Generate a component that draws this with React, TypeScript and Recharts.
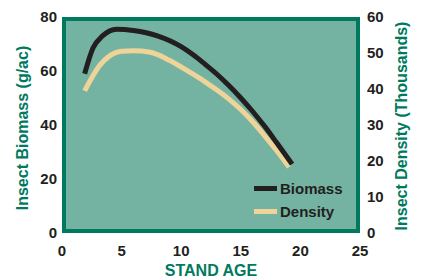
import React from 'react';
import {
  LineChart, Line, XAxis, YAxis, Legend, ReferenceArea, Label,
} from 'recharts';

const ageTicks = [0, 5, 10, 15, 20, 25];
const biomassTicks = [0, 20, 40, 60, 80];
const densityTicks = [0, 10, 20, 30, 40, 50, 60];

const biomassAge = [1.9, 2.6, 3.4, 4.6, 6, 8, 10, 11, 12, 13, 14, 15, 16, 17, 18, 19.3];
const biomassValue = [59, 68.5, 73, 75.5, 75, 73, 69, 66, 62.5, 58.8, 54.6, 50, 45, 39.5, 33.5, 25.5];

const densityAge = [1.9, 3.2, 4, 5, 6, 7.4, 9, 10.7, 12, 13, 14, 15, 16, 17, 18, 19.05];
const densityValue = [39.5, 46.7, 49.2, 50.5, 50.6, 50.2, 48, 44.7, 42, 39.7, 37.2, 34.3, 30.9, 27, 22.9, 18.3];

const biomassData = biomassAge.map((age, i) => ({ age, biomass: biomassValue[i] }));
const densityData = densityAge.map((age, i) => ({ age, density: densityValue[i] }));

const GREEN = '#007a5e';
const FILL = '#74b3a1';
const INK = '#231f20';
const TAN = '#efd49a';
const FONT = '"Liberation Sans", Arial, sans-serif';

const tickStyle = { fill: INK, fontSize: 15, fontWeight: 700, fontFamily: FONT };
const titleStyle: React.CSSProperties = { fill: GREEN, fontSize: 16, fontWeight: 700, fontFamily: FONT };

function Frame(props: any) {
  const { x, y, width, height } = props;
  return (
    <rect x={x + 2} y={y + 2} width={width - 4} height={height - 4}
      fill={FILL} stroke={GREEN} strokeWidth={4} />
  );
}

// legend order in the picture: Biomass then Density
const legendOrder = ['Biomass', 'Density'];

function LegendBox({ payload }: any) {
  const items = [...(payload || [])].sort(
    (a: any, b: any) => legendOrder.indexOf(a.value) - legendOrder.indexOf(b.value),
  );
  return (
    <div style={{ fontFamily: FONT, fontWeight: 700, fontSize: 15, color: INK }}>
      {items.map((p: any) => (
        <div key={p.value} style={{ display: 'flex', alignItems: 'center', height: 23 }}>
          <span style={{ display: 'inline-block', width: 23, height: 5, background: p.color, marginRight: 3 }} />
          {p.value}
        </div>
      ))}
    </div>
  );
}

export default function App() {
  return (
    <div style={{ position: 'absolute', left: 0, top: 0, background: '#fff' }}>
      <LineChart width={423} height={280} margin={{ top: 17, right: 0, bottom: 0, left: 0 }}>
        <XAxis type="number" dataKey="age" domain={[0, 25]} ticks={ageTicks}
          axisLine={false} tickLine={false} tickSize={0} tickMargin={12} height={47}
          tick={tickStyle} allowDuplicatedCategory={false}>
          <Label content={() => (
            <text x={211} y={276} textAnchor="middle" style={titleStyle}>STAND AGE</text>
          )} />
        </XAxis>
        <YAxis yAxisId="left" domain={[0, 80]} ticks={biomassTicks} width={62}
          axisLine={false} tickLine={false} tickSize={0} tickMargin={5} tick={tickStyle}>
          <Label content={() => (
            <text x={28} y={128} textAnchor="middle" transform="rotate(-90 28 128)" style={titleStyle}>
              Insect Biomass (g/ac)
            </text>
          )} />
        </YAxis>
        <YAxis yAxisId="right" orientation="right" domain={[0, 60]} ticks={densityTicks} width={63}
          axisLine={false} tickLine={false} tickSize={0} tickMargin={7} tick={tickStyle}>
          <Label content={() => (
            <text x={407} y={126} textAnchor="middle" transform="rotate(-90 407 126)" style={titleStyle}>
              Insect Density (Thousands)
            </text>
          )} />
        </YAxis>
        <ReferenceArea yAxisId="left" x1={0} x2={25} y1={0} y2={80} shape={Frame} ifOverflow="visible" />
        <Line yAxisId="right" data={densityData} dataKey="density" name="Density" type="monotone"
          stroke={TAN} strokeWidth={5} dot={false} isAnimationActive={false} />
        <Line yAxisId="left" data={biomassData} dataKey="biomass" name="Biomass" type="monotone"
          stroke={INK} strokeWidth={5} dot={false} isAnimationActive={false} />
        <Legend content={LegendBox} layout="vertical" align="center" verticalAlign="middle"
          wrapperStyle={{ position: 'absolute', left: 254, top: 177, width: 'auto' }} />
      </LineChart>
    </div>
  );
}
